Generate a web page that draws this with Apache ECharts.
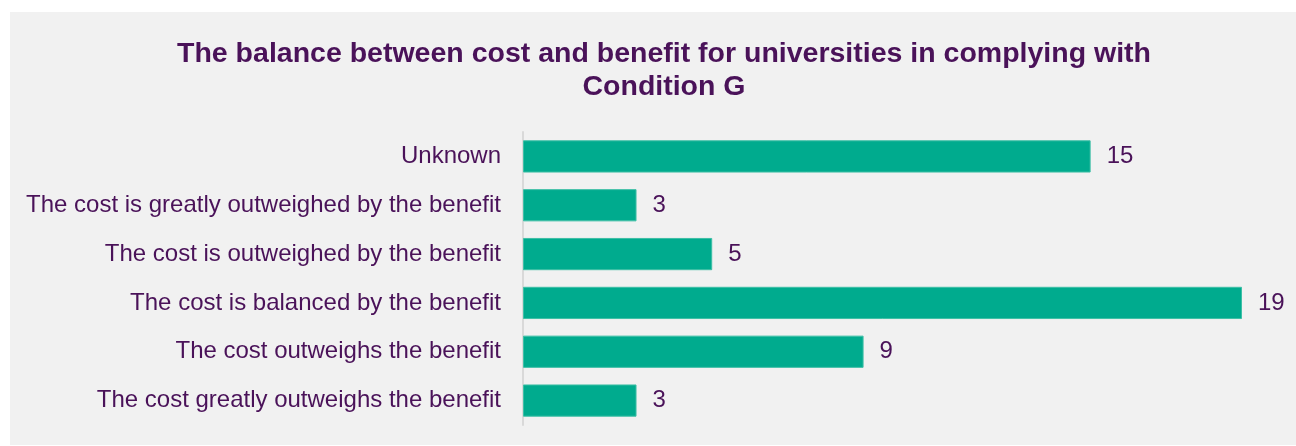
<!DOCTYPE html>
<html>
<head>
<meta charset="utf-8">
<script src="https://cdn.jsdelivr.net/npm/echarts@6/dist/echarts.min.js"></script>
<style>
  html, body { margin: 0; padding: 0; background: #ffffff; }
  #main { width: 1296px; height: 446px; }
</style>
</head>
<body>
<div id="main"></div>
<script>
// Categories, listed bottom to top (ECharts draws category axis from bottom)
const categories = [
  'The cost greatly outweighs the benefit',
  'The cost outweighs the benefit',
  'The cost is balanced by the benefit',
  'The cost is outweighed by the benefit',
  'The cost is greatly outweighed by the benefit',
  'Unknown'
]
// Number of universities for each answer
const counts = [3, 9, 19, 5, 3, 15]

const purple = '#4a1259'

let myChart = echarts.init(document.getElementById('main'))
let option = {
  animation: false,
  textStyle: { fontFamily: 'Liberation Sans, Arial, sans-serif' },
  graphic: [
    {
      type: 'rect',
      shape: { x: 10, y: 12, width: 1286, height: 433 },
      style: { fill: '#f1f1f1' },
      z: -10,
    },
  ],
  title: {
    text: 'The balance between cost and benefit for universities in complying with\nCondition G',
    left: 659,
    top: 33,
    textAlign: 'center',
    textStyle: {
      color: purple,
      fontSize: 28.5,
      fontWeight: 'bold',
      lineHeight: 33,
      fontFamily: 'Liberation Sans, Arial, sans-serif',
    },
  },
  grid: {
    left: 523,
    top: 132,
    width: 719,
    height: 293,
    containLabel: false,
  },
  xAxis: {
    type: 'value',
    min: 0,
    max: 19,
    show: false,
  },
  yAxis: {
    type: 'category',
    data: categories,
    axisLine: { show: true, lineStyle: { color: '#d9d9d9', width: 2 } },
    axisTick: { show: false },
    axisLabel: {
      color: purple,
      fontSize: 24,
      margin: 22,
    },
  },
  series: [
    {
      type: 'bar',
      data: counts,
      barCategoryGap: '34%',
      itemStyle: {
        color: '#00ab8e',
        borderColor: '#3dbfa6',
        borderWidth: 1,
      },
      label: {
        show: true,
        position: 'right',
        distance: 16,
        color: purple,
        fontSize: 24,
      },
    },
  ],
}
myChart.setOption(option)
</script>
</body>
</html>
